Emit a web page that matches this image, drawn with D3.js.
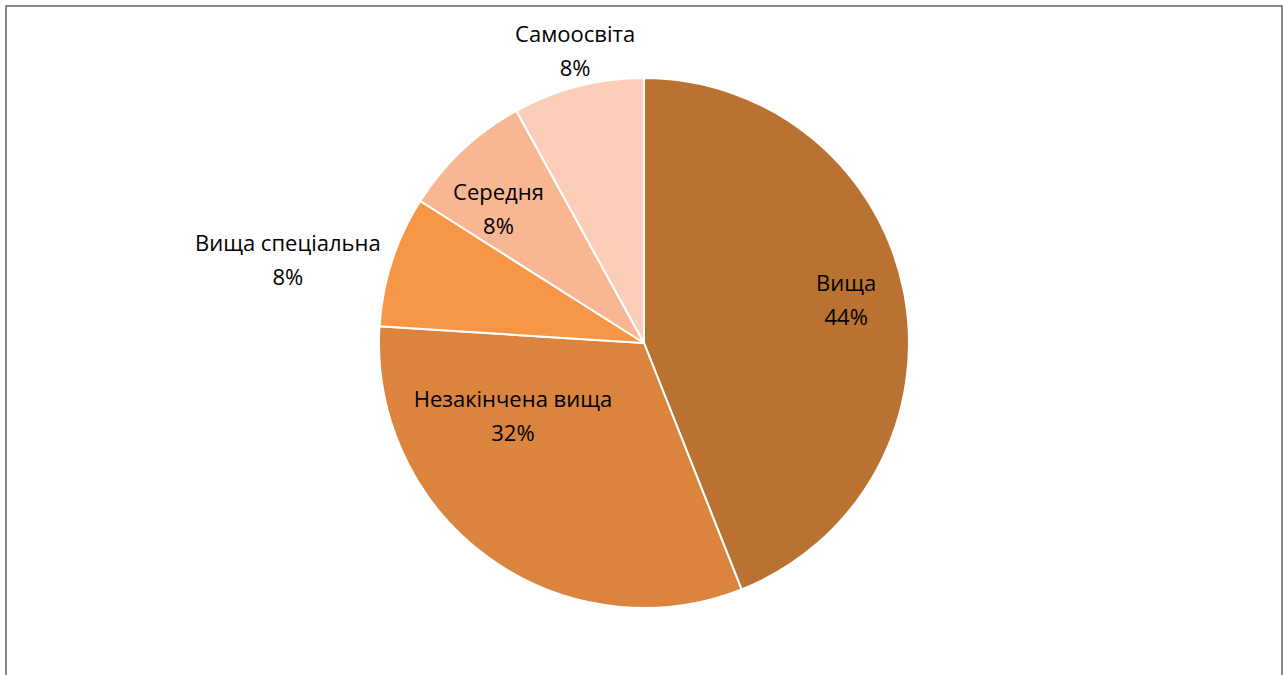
<!DOCTYPE html>
<html>
<head>
<meta charset="utf-8">
<script src="https://cdn.jsdelivr.net/npm/d3@7"></script>
<style>
  html, body { margin: 0; padding: 0; background: #fff; }
  svg { display: block; }
  text { font-family: "Open Sans", "Liberation Sans", sans-serif; font-size: 22px; fill: #000; }
</style>
</head>
<body>
<svg id="chart" width="1284" height="675"></svg>
<script>
// Education level breakdown
const categories = ["Вища", "Незакінчена вища", "Вища спеціальна", "Середня", "Самоосвіта"];
const shares = [44, 32, 8, 8, 8];
const colors = ["#B97232", "#DB843E", "#F79646", "#F9B692", "#FBCEB8"];

// Label placement per slice: angle (deg, clockwise from 12 o'clock) and radius as a fraction of R
const labelAngle = [78.0, 240.9, 283.1, 312.5, 346.7];
const labelRadius = [0.78, 0.566, 1.38, 0.745, 1.13];

const cx = 644, cy = 343, R = 265;

const svg = d3.select("#chart");

// chart frame
svg.append("rect")
  .attr("x", 6).attr("y", 6)
  .attr("width", 1276).attr("height", 700)
  .attr("fill", "#fff")
  .attr("stroke", "#898989")
  .attr("stroke-width", 2);

const data = categories.map((c, i) => ({ name: c, value: shares[i], color: colors[i] }));

const pie = d3.pie().value(d => d.value).sort(null);
const arc = d3.arc().innerRadius(0).outerRadius(R);

const g = svg.append("g").attr("transform", `translate(${cx},${cy})`);

g.selectAll("path.slice")
  .data(pie(data))
  .join("path")
  .attr("class", "slice")
  .attr("d", arc)
  .attr("fill", d => d.data.color)
  .attr("stroke", "#fff")
  .attr("stroke-width", 2);

const labels = g.selectAll("text.lbl")
  .data(pie(data))
  .join("text")
  .attr("class", "lbl")
  .attr("text-anchor", "middle")
  .attr("transform", (d, i) => {
    const a = labelAngle[i] * Math.PI / 180;
    const r = labelRadius[i] * R;
    return `translate(${r * Math.sin(a)},${-r * Math.cos(a)})`;
  });

labels.append("tspan")
  .attr("x", 0).attr("dy", "-0.42em")
  .text(d => d.data.name);
labels.append("tspan")
  .attr("x", 0).attr("dy", "1.55em")
  .text(d => d.data.value + "%");
</script>
</body>
</html>
